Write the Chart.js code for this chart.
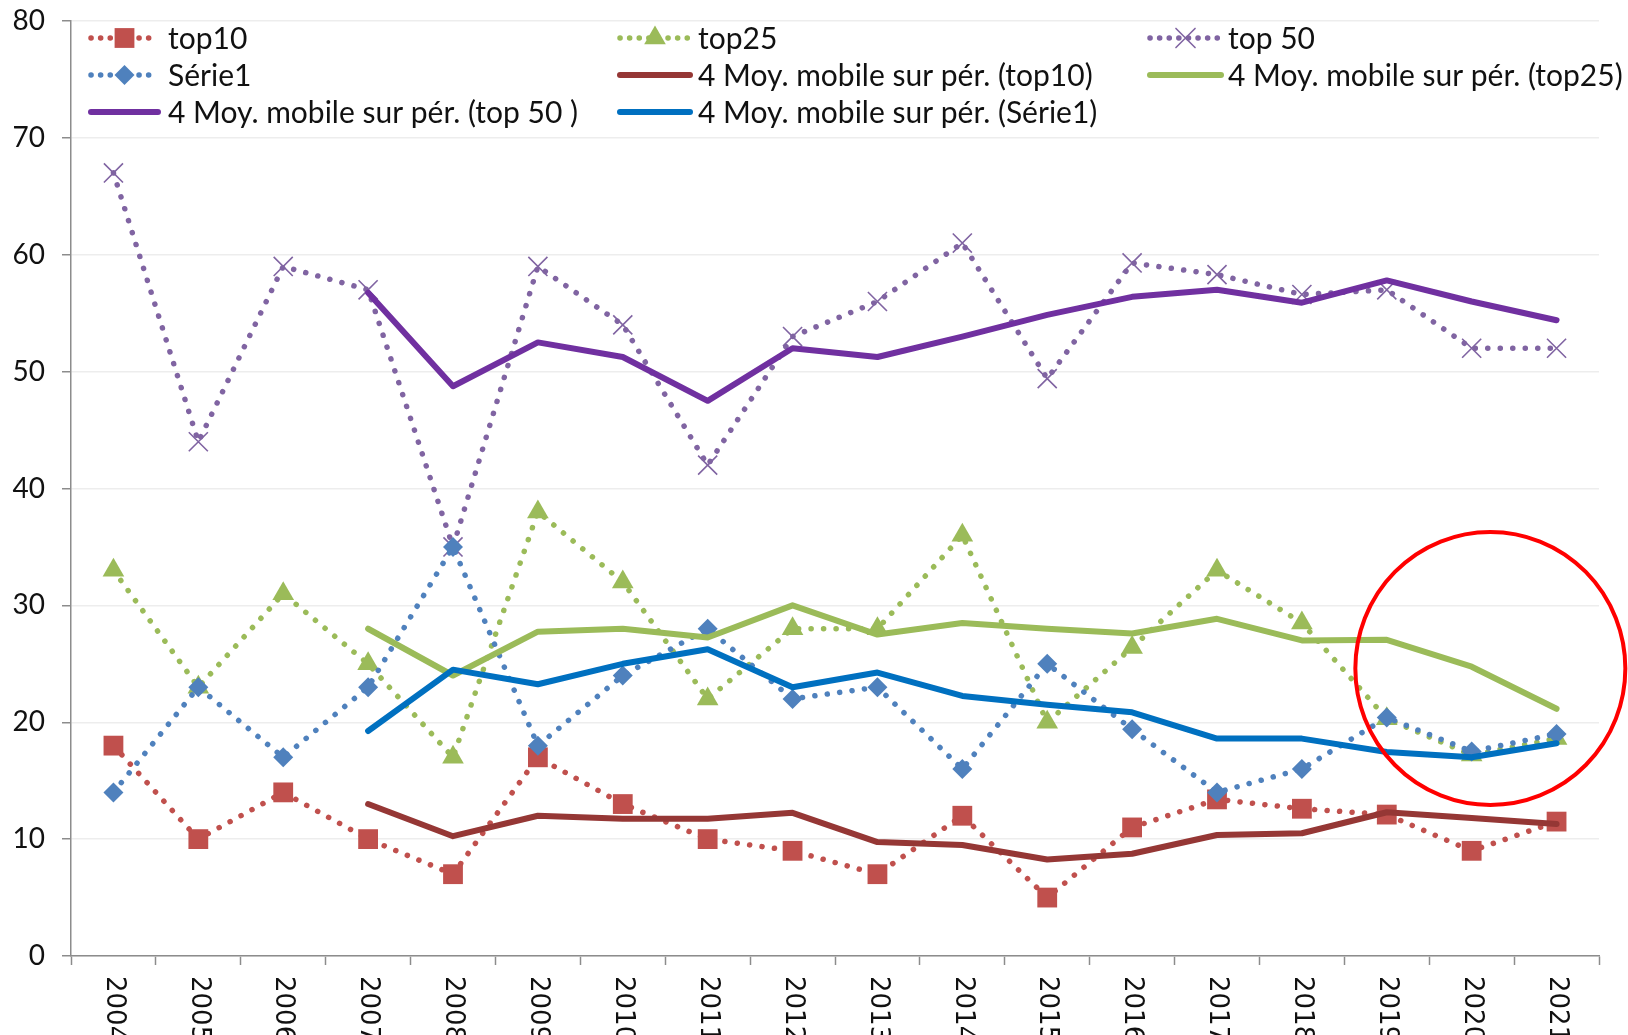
<!DOCTYPE html>
<html>
<head>
<meta charset="utf-8">
<script src="https://cdn.jsdelivr.net/npm/chart.js@4"></script>
<style>
  html, body { margin: 0; padding: 0; background: #ffffff; }
  #wrap { width: 1628px; height: 1035px; }
</style>
</head>
<body>
<div id="wrap"><canvas id="c" width="1628" height="1035"></canvas></div>
<script>
// ---- Data ----
const years = ['2004','2005','2006','2007','2008','2009','2010','2011','2012','2013','2014','2015','2016','2017','2018','2019','2020','2021'];

const top10  = [18, 10, 14, 10, 7, 17, 13, 10, 9, 7, 12, 5, 11, 13.4, 12.6, 12.1, 9, 11.5];
const top25  = [33, 23, 31, 25, 17, 38, 32, 22, 28, 28, 36, 20, 26.4, 33, 28.5, 20.3, 17.2, 18.6];
const top50  = [67, 44, 59, 57, 35, 59, 54, 42, 53, 56, 61, 49.4, 59.3, 58.3, 56.6, 57, 52, 52];
const serie1 = [14, 23, 17, 23, 35, 18, 24, 28, 22, 23, 16, 25, 19.4, 14, 16, 20.4, 17.5, 19];

const maTop10  = [null, null, null, 13, 10.25, 12, 11.75, 11.75, 12.25, 9.75, 9.5, 8.25, 8.75, 10.35, 10.5, 12.3, 11.8, 11.3];
const maTop25  = [null, null, null, 28, 24, 27.75, 28, 27.25, 30, 27.5, 28.5, 28, 27.6, 28.85, 27, 27.05, 24.75, 21.15];
const maTop50  = [null, null, null, 56.75, 48.75, 52.5, 51.25, 47.5, 52, 51.25, 53, 54.85, 56.4, 57, 55.9, 57.8, 56, 54.4];
const maSerie1 = [null, null, null, 19.25, 24.5, 23.25, 25, 26.25, 23, 24.25, 22.25, 21.5, 20.85, 18.6, 18.6, 17.45, 17, 18.2];

const seriesLabels = ['top10', 'top25', 'top 50', 'Série1',
  '4 Moy. mobile sur pér. (top10)', '4 Moy. mobile sur pér. (top25)',
  '4 Moy. mobile sur pér. (top 50 )', '4 Moy. mobile sur pér. (Série1)'];

const yTicks = [0, 10, 20, 30, 40, 50, 60, 70, 80];

// ---- Styles ----
const DOT = [0.1, 12.4];
function dotted(label, data, color, style, radius, order, pbw) {
  return {
    label, data, borderColor: color, backgroundColor: color,
    borderWidth: 5.5, borderDash: DOT, borderCapStyle: 'round', borderJoinStyle: 'round',
    pointStyle: style, pointRadius: radius, pointHoverRadius: radius,
    pointBackgroundColor: color, pointBorderColor: color, pointBorderWidth: pbw,
    tension: 0, fill: false, order, _kind: 'dotted'
  };
}
function solid(label, data, color, order) {
  return {
    label, data, borderColor: color, backgroundColor: color,
    borderWidth: 6, borderCapStyle: 'round', borderJoinStyle: 'round',
    pointRadius: 0, pointHoverRadius: 0, tension: 0, fill: false,
    spanGaps: false, order, _kind: 'solid'
  };
}

const datasets = [
  dotted(seriesLabels[0], top10,  '#C0504D', 'rect', 14, 8, 0),
  dotted(seriesLabels[1], top25,  '#9BBB59', 'triangle', 12.5, 7, 0),
  dotted(seriesLabels[2], top50,  '#8064A2', 'crossRot', 13.5, 6, 1.6),
  dotted(seriesLabels[3], serie1, '#4F81BD', 'rectRot', 10, 5, 0),
  solid(seriesLabels[4], maTop10,  '#953735', 4),
  solid(seriesLabels[5], maTop25,  '#9BBB59', 3),
  solid(seriesLabels[6], maTop50,  '#7030A0', 2),
  solid(seriesLabels[7], maSerie1, '#0070C0', 1)
];

// ---- Plugins ----
const legendPlugin = {
  id: 'gridLegend',
  afterDraw(chart) {
    const ctx = chart.ctx;
    const cols = [[91, 158, 168], [620, 690, 698], [1150, 1221, 1228]];
    const rows = [38, 75, 112];
    chart.data.datasets.forEach((ds, i) => {
      const c = cols[i % 3], y = rows[Math.floor(i / 3)];
      ctx.save();
      ctx.strokeStyle = ds.borderColor;
      ctx.lineWidth = ds.borderWidth;
      ctx.lineCap = 'round';
      if (ds._kind === 'dotted') ctx.setLineDash([0.1, 9.5]); else ctx.setLineDash([]);
      ctx.beginPath();
      ctx.moveTo(c[0], y); ctx.lineTo(c[1], y);
      ctx.stroke();
      ctx.setLineDash([]);
      if (ds._kind === 'dotted') {
        ctx.fillStyle = ds.pointBackgroundColor;
        ctx.strokeStyle = ds.pointBorderColor;
        ctx.lineWidth = ds.pointBorderWidth;
        Chart.helpers.drawPoint(ctx, {pointStyle: ds.pointStyle, radius: ds.pointRadius, borderWidth: ds.pointBorderWidth, rotation: 0},
          (c[0] + c[1]) / 2, y);
      }
      ctx.fillStyle = '#111111';
      ctx.font = '30px Lato';
      ctx.textBaseline = 'middle';
      ctx.textAlign = 'left';
      ctx.fillText(ds.label, c[2], y + 1);
      ctx.restore();
    });
  }
};

const xLabelPlugin = {
  id: 'xLabels',
  afterDraw(chart) {
    const ctx = chart.ctx, xs = chart.scales.x;
    ctx.save();
    ctx.fillStyle = '#111111';
    ctx.font = '26px "DejaVu Sans"';
    ctx.textAlign = 'left';
    ctx.textBaseline = 'middle';
    chart.data.labels.forEach((lab, i) => {
      const x = xs.getPixelForValue(i);
      ctx.save();
      ctx.translate(x, 976);
      ctx.rotate(Math.PI / 2);
      ctx.fillText(lab, 0, 0);
      ctx.restore();
    });
    ctx.restore();
  }
};

const circlePlugin = {
  id: 'redCircle',
  afterDraw(chart) {
    const ctx = chart.ctx, xs = chart.scales.x, ys = chart.scales.y;
    const x0 = xs.getPixelForValue(16), x1 = xs.getPixelForValue(17);
    const cx = x0 + 0.22 * (x1 - x0);
    const cy = ys.getPixelForValue(24.6);
    ctx.save();
    ctx.strokeStyle = '#FF0000';
    ctx.lineWidth = 4;
    ctx.beginPath();
    ctx.ellipse(cx, cy, 135, 136.5, 0, 0, Math.PI * 2);
    ctx.stroke();
    ctx.restore();
  }
};

new Chart(document.getElementById('c'), {
  type: 'line',
  data: { labels: years, datasets },
  options: {
    responsive: false,
    animation: false,
    events: [],
    layout: { padding: { top: 21, right: 29, left: 0, bottom: 0 } },
    plugins: { legend: { display: false }, tooltip: { enabled: false } },
    scales: {
      x: {
        type: 'category',
        offset: true,
        grid: { offset: true, drawOnChartArea: false, drawTicks: true, tickLength: 9, tickColor: '#8C8C8C', tickWidth: 1.5 },
        border: { color: '#8C8C8C', width: 1.5 },
        ticks: { display: false },
        afterFit(scale) { scale.height = 79; scale.paddingLeft = 0; scale.paddingRight = 0; }
      },
      y: {
        min: 0, max: 80,
        afterBuildTicks(scale) { scale.ticks = yTicks.map(v => ({ value: v })); },
        grid: { color: '#EDEDED', lineWidth: 1.5, drawTicks: true, tickLength: 9, tickColor: '#8C8C8C', tickWidth: 1.5 },
        border: { color: '#8C8C8C', width: 1.5 },
        ticks: { font: { family: 'Lato', size: 28 }, color: '#111111', padding: 17 },
        afterFit(scale) { scale.width = 71; scale.paddingTop = 0; scale.paddingBottom = 0; }
      }
    }
  },
  plugins: [legendPlugin, xLabelPlugin, circlePlugin]
});
</script>
</body>
</html>
